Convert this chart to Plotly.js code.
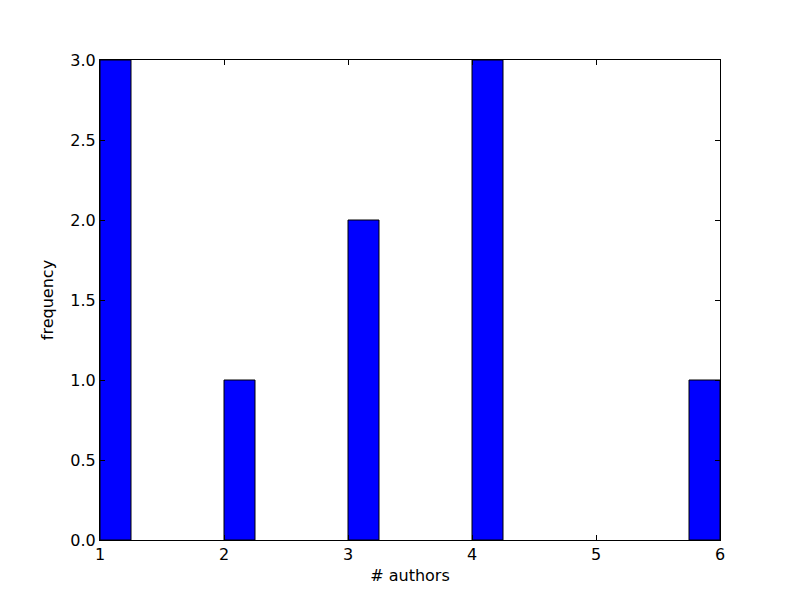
<!DOCTYPE html>
<html>
<head>
<meta charset="utf-8">
<script src="https://cdn.plot.ly/plotly-3.0.1.min.js"></script>
<style>html,body{margin:0;padding:0;background:#fff;}#chart{width:800px;height:600px;}</style>
</head>
<body>
<div id="chart"></div>
<script>
// Histogram bins (left edges), bin width, and counts
const binStarts = [1.0, 2.0, 3.0, 4.0, 5.75];
const binWidth = 0.25;
const counts = [3, 1, 2, 3, 1];
const xTicks = [1, 2, 3, 4, 5, 6];
const yTicks = [0, 0.5, 1.0, 1.5, 2.0, 2.5, 3.0];
const yTickText = ['0.0', '0.5', '1.0', '1.5', '2.0', '2.5', '3.0'];

const trace = {
  type: 'bar',
  x: binStarts,
  y: counts,
  width: binStarts.map(() => binWidth),
  offset: 0,
  marker: {color: '#0000ff', line: {color: '#000000', width: 1}},
  hoverinfo: 'x+y'
};

const font = {family: 'DejaVu Sans', size: 16, color: '#000'};
const layout = {
  width: 800, height: 600,
  margin: {l: 100, r: 80, t: 60, b: 60},
  paper_bgcolor: '#fff', plot_bgcolor: '#fff',
  showlegend: false,
  bargap: 0,
  font: font,
  xaxis: {
    range: [1, 6], tickvals: xTicks, ticktext: xTicks.map(String),
    showgrid: false, zeroline: false,
    showline: true, linecolor: '#000', linewidth: 1, mirror: 'allticks',
    ticks: 'inside', ticklen: 5, tickcolor: '#000',
    tickfont: font,
    title: {text: '# authors', font: font, standoff: 6}
  },
  yaxis: {
    range: [0, 3], tickvals: yTicks, ticktext: yTickText,
    showgrid: false, zeroline: false,
    showline: true, linecolor: '#000', linewidth: 1, mirror: 'allticks',
    ticks: 'inside', ticklen: 5, tickcolor: '#000',
    tickfont: font,
    title: {text: 'frequency', font: font, standoff: 12}
  }
};

Plotly.newPlot('chart', [trace], layout, {displayModeBar: false, staticPlot: true});
</script>
</body>
</html>
